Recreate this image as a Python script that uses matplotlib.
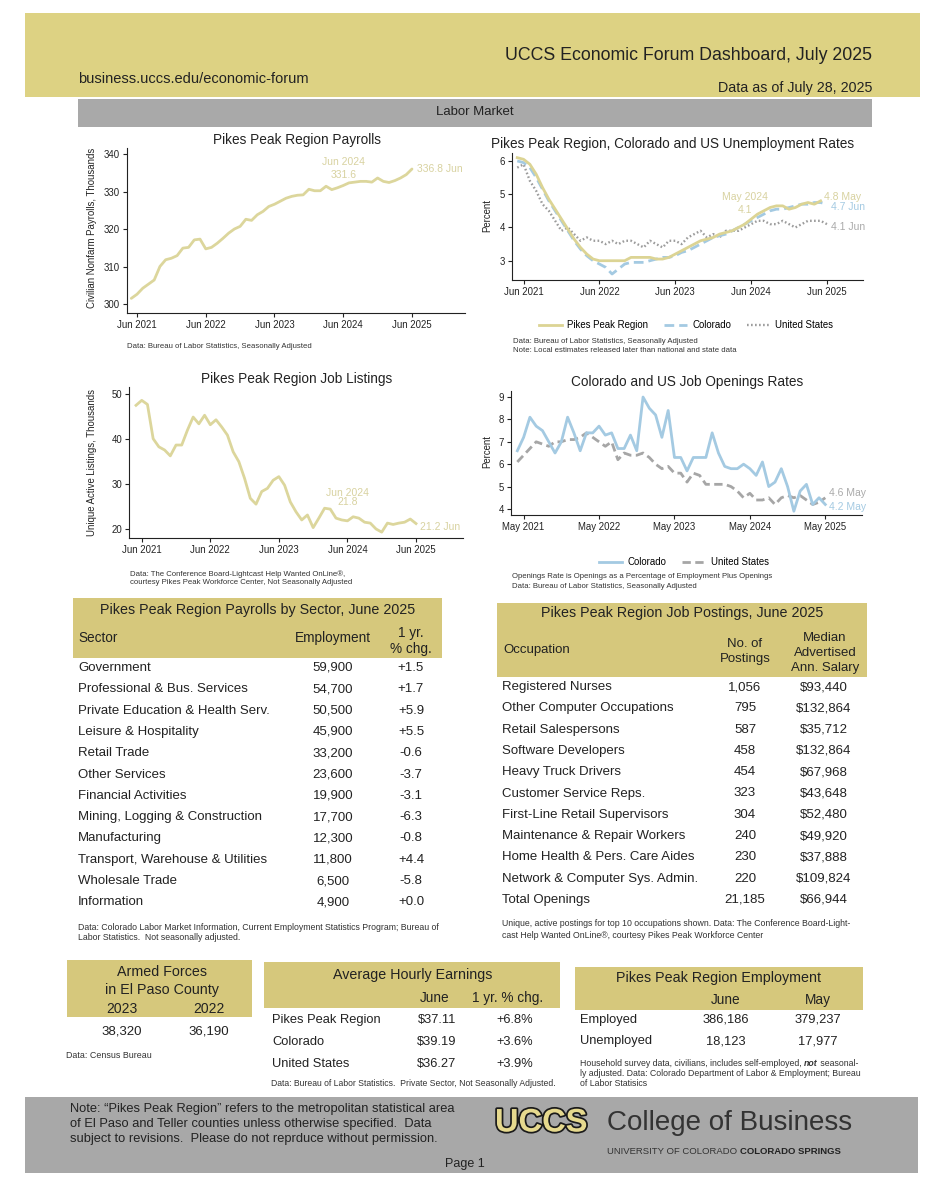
import numpy as np
import matplotlib
matplotlib.use("Agg")
import matplotlib.pyplot as plt
from matplotlib.patches import Rectangle
from matplotlib.lines import Line2D
import matplotlib.patheffects as pe

plt.rcParams['font.family'] = ['Liberation Sans', 'DejaVu Sans']

# ---------------- data ----------------
payrolls = [301.5, 302.6, 304.2, 305.3, 306.4, 310.0, 311.8, 312.2, 312.9, 314.9,
            315.1, 317.1, 317.3, 314.7, 315.1, 316.2, 317.5, 318.9, 320.0, 320.7,
            322.6, 322.3, 323.8, 324.7, 326.0, 326.6, 327.4, 328.2, 328.7, 329.0,
            329.1, 330.6, 330.2, 330.2, 331.4, 330.5, 331.0, 331.6, 332.3, 332.5,
            332.7, 332.7, 332.5, 333.6, 332.7, 332.4, 332.9, 333.6, 334.5, 336.0]  # May 2021 - Jun 2025

unemp_ppr = [6.1, 6.05, 5.9, 5.6, 5.2, 4.85, 4.55, 4.25, 3.95, 3.65,
             3.4, 3.2, 3.05, 3.0, 3.0, 3.0, 3.0, 3.0, 3.1, 3.1,
             3.1, 3.1, 3.05, 3.05, 3.1, 3.2, 3.3, 3.4, 3.5, 3.6,
             3.65, 3.7, 3.8, 3.85, 3.9, 4.0, 4.1, 4.25, 4.4, 4.5,
             4.6, 4.65, 4.65, 4.55, 4.6, 4.7, 4.75, 4.7, 4.8]  # May 2021 - May 2025
unemp_co = [6.0, 5.95, 5.8, 5.5, 5.15, 4.8, 4.5, 4.2, 3.9, 3.6,
            3.35, 3.15, 3.0, 2.9, 2.8, 2.6, 2.75, 2.9, 2.95, 2.95,
            2.95, 3.0, 3.05, 3.1, 3.1, 3.15, 3.25, 3.3, 3.4, 3.5,
            3.6, 3.7, 3.75, 3.8, 3.9, 4.0, 4.1, 4.2, 4.3, 4.4,
            4.5, 4.55, 4.55, 4.6, 4.65, 4.7, 4.7, 4.75, 4.75, 4.7]  # May 2021 - Jun 2025
unemp_us = [5.8, 5.9, 5.4, 5.1, 4.7, 4.5, 4.2, 3.9, 4.0, 3.8,
            3.6, 3.7, 3.6, 3.6, 3.5, 3.6, 3.5, 3.6, 3.6, 3.5,
            3.4, 3.6, 3.5, 3.4, 3.6, 3.6, 3.5, 3.7, 3.8, 3.9,
            3.7, 3.8, 3.7, 3.9, 3.9, 3.9, 4.0, 4.1, 4.2, 4.2,
            4.1, 4.1, 4.2, 4.1, 4.0, 4.1, 4.2, 4.2, 4.2, 4.1]  # May 2021 - Jun 2025

listings = [47.4, 48.5, 47.6, 40.0, 38.2, 37.5, 36.2, 38.6, 38.6, 41.9,
            44.8, 43.3, 45.2, 43.1, 44.2, 42.6, 40.8, 37.1, 34.9, 31.2,
            26.8, 25.5, 28.3, 29.0, 30.8, 31.6, 29.7, 26.0, 23.8, 22.0,
            23.1, 20.3, 22.4, 24.6, 24.4, 22.4, 22.0, 21.8, 22.7, 22.4,
            21.5, 21.3, 20.0, 19.3, 21.3, 21.0, 21.3, 21.5, 22.2, 21.2]  # May 2021 - Jun 2025

open_co = [6.6, 7.2, 8.1, 7.7, 7.5, 7.0, 6.5, 7.0, 8.1, 7.4,
           6.6, 7.4, 7.4, 7.7, 7.3, 7.4, 6.7, 6.7, 7.3, 6.6,
           9.0, 8.5, 8.2, 7.2, 8.4, 6.3, 6.3, 5.7, 6.3, 6.3,
           6.3, 7.4, 6.5, 5.9, 5.8, 5.8, 6.0, 5.8, 5.5, 6.1,
           5.0, 5.2, 5.8, 5.0, 3.9, 4.8, 5.1, 4.2, 4.5, 4.2]  # Apr 2021 - May 2025
open_us = [6.1, 6.4, 6.7, 7.0, 6.9, 6.8, 7.0, 7.0, 7.1, 7.1,
           7.2, 7.4, 7.2, 7.0, 6.8, 7.0, 6.2, 6.5, 6.4, 6.4,
           6.5, 6.3, 6.0, 5.8, 5.9, 5.6, 5.6, 5.2, 5.6, 5.5,
           5.1, 5.1, 5.1, 5.1, 5.0, 4.8, 4.5, 4.7, 4.4, 4.4,
           4.5, 4.2, 4.5, 4.6, 4.5, 4.6, 4.4, 4.2, 4.3, 4.5]  # Apr 2021 - May 2025

sectors = ["Government", "Professional & Bus. Services", "Private Education & Health Serv.",
           "Leisure & Hospitality", "Retail Trade", "Other Services", "Financial Activities",
           "Mining, Logging & Construction", "Manufacturing", "Transport, Warehouse & Utilities",
           "Wholesale Trade", "Information"]
sector_emp = [59900, 54700, 50500, 45900, 33200, 23600, 19900, 17700, 12300, 11800, 6500, 4900]
sector_chg = [1.5, 1.7, 5.9, 5.5, -0.6, -3.7, -3.1, -6.3, -0.8, 4.4, -5.8, 0.0]

occupations = ["Registered Nurses", "Other Computer Occupations", "Retail Salespersons",
               "Software Developers", "Heavy Truck Drivers", "Customer Service Reps.",
               "First-Line Retail Supervisors", "Maintenance & Repair Workers",
               "Home Health & Pers. Care Aides", "Network & Computer Sys. Admin.", "Total Openings"]
postings = [1056, 795, 587, 458, 454, 323, 304, 240, 230, 220, 21185]
salaries = [93440, 132864, 35712, 132864, 67968, 43648, 52480, 49920, 37888, 109824, 66944]

armed_years = ["2023", "2022"]
armed_values = [38320, 36190]

earn_regions = ["Pikes Peak Region", "Colorado", "United States"]
earn_june = [37.11, 39.19, 36.27]
earn_chg = [6.8, 3.6, 3.9]

emp_labels = ["Employed", "Unemployed"]
emp_june = [386186, 18123]
emp_may = [379237, 17977]

# ---------------- styling ----------------
BAND = '#ddd283'
TABHEAD = '#d6c87c'
GRAY = '#a9a9a9'
PAY = '#dcd69c'
PPR = '#dcd494'
PPR_TXT = '#d8d2a0'
BLUE = '#a4cae2'
GRAYLINE = '#9c9c9c'
USDASH = '#a6a6a6'
TXT = '#222222'
NOTE = '#333333'

W, H = 927, 1200
fig = plt.figure(figsize=(W / 100, H / 100), dpi=100)
fig.patch.set_facecolor('white')


def T(x, y, s, size=9, ha='left', va='center', color=TXT, **kw):
    return fig.text(x / W, 1 - y / H, s, fontsize=size, ha=ha, va=va, color=color, **kw)


def R(x0, y0, x1, y1, color):
    fig.add_artist(Rectangle((x0 / W, 1 - y1 / H), (x1 - x0) / W, (y1 - y0) / H,
                             transform=fig.transFigure, facecolor=color,
                             edgecolor='none', zorder=-5))


def AX(x0, y0, x1, y1):
    ax = fig.add_axes([x0 / W, 1 - y1 / H, (x1 - x0) / W, (y1 - y0) / H])
    ax.patch.set_alpha(0)
    for s in ['top', 'right']:
        ax.spines[s].set_visible(False)
    for s in ['left', 'bottom']:
        ax.spines[s].set_linewidth(0.8)
        ax.spines[s].set_color('#222')
    ax.tick_params(labelsize=6.9, length=3, width=0.8, colors='#222', pad=2)
    return ax


def months(y, m, n):
    return y + (m - 1) / 12 + np.arange(n) / 12


def seq(x, y, parts, size):
    r = fig.canvas.get_renderer()
    for s, kw in parts:
        t = T(x, y, s, size=size, **kw)
        x = t.get_window_extent(renderer=r).x1


years = [2021, 2022, 2023, 2024, 2025]
jun_ticks = [yy + 5 / 12 for yy in years]
may_ticks = [yy + 4 / 12 for yy in years]

CO_DASH = (3.5, 1.8)
US_DOT = (0.7, 1.0)
US_DASH = (3.0, 1.6)

# ---------------- header ----------------
R(25, 13, 920, 97, BAND)
T(872, 55, "UCCS Economic Forum Dashboard, July 2025", size=12.8, ha='right')
T(78, 79, "business.uccs.edu/economic-forum", size=10.5)
T(872, 88, "Data as of July 28, 2025", size=10.3, ha='right')
R(78, 99, 872, 127, GRAY)
T(475, 112, "Labor Market", size=9.5, ha='center')

# ---------------- chart 1: payrolls ----------------
ax1 = AX(127, 148, 465, 313)
ax1.plot(months(2021, 5, len(payrolls)), payrolls, color=PAY, lw=2.0, solid_capstyle='round')
ax1.set_xlim(2021.271, 2026.188)
ax1.set_ylim(297.6, 341.6)
ax1.set_yticks([300, 310, 320, 330, 340])
ax1.set_xticks(jun_ticks)
ax1.set_xticklabels([f"Jun {yy}" for yy in years])
ax1.text(2024 + 5 / 12, 337.8, "Jun 2024", ha='center', va='center', fontsize=7.5, color=PPR_TXT)
ax1.text(2024 + 5 / 12, 334.4, f"{payrolls[37]:.1f}", ha='center', va='center', fontsize=7.5, color=PPR_TXT)
ax1.text(2025 + 5 / 12 + 0.07, 335.9, "336.8 Jun", ha='left', va='center', fontsize=7.5, color=PPR_TXT)
T(297, 140, "Pikes Peak Region Payrolls", size=9.8, ha='center')
T(92, 228, "Civilian Nonfarm Payrolls, Thousands", size=6.9, ha='center', rotation=90)
T(127, 347, "Data: Bureau of Labor Statistics, Seasonally Adjusted", size=5.6, color=NOTE)

# ---------------- chart 2: unemployment ----------------
ax2 = AX(512, 153, 863, 280)
ax2.plot(months(2021, 5, len(unemp_us)), unemp_us, color=GRAYLINE, lw=1.7, dashes=US_DOT)
ax2.plot(months(2021, 5, len(unemp_co)), unemp_co, color=BLUE, lw=2.0, dashes=CO_DASH)
ax2.plot(months(2021, 5, len(unemp_ppr)), unemp_ppr, color=PPR, lw=2.0)
ax2.set_xlim(2021.264, 2025.892)
ax2.set_ylim(2.42, 6.24)
ax2.set_yticks([3, 4, 5, 6])
ax2.set_xticks(jun_ticks)
ax2.set_xticklabels([f"Jun {yy}" for yy in years])
ax2.text(2024 + 4 / 12, 4.93, "May 2024", ha='center', va='center', fontsize=7.5, color=PPR_TXT)
ax2.text(2024 + 4 / 12, 4.53, f"{unemp_ppr[36]:.1f}", ha='center', va='center', fontsize=7.5, color=PPR_TXT)
ax2.text(2025.375, 4.93, "4.8 May", ha='left', va='center', fontsize=7.5, color=PPR_TXT)
ax2.text(2025.47, 4.63, "4.7 Jun", ha='left', va='center', fontsize=7.5, color=BLUE)
ax2.text(2025.47, 4.02, "4.1 Jun", ha='left', va='center', fontsize=7.5, color='#aaaaaa')
T(673, 144, "Pikes Peak Region, Colorado and US Unemployment Rates", size=9.8, ha='center')
T(487, 215, "Percent", size=6.9, ha='center', rotation=90)
h2 = [Line2D([], [], color=PPR, lw=2.0),
      Line2D([], [], color=BLUE, lw=2.0, dashes=CO_DASH),
      Line2D([], [], color=GRAYLINE, lw=1.7, dashes=US_DOT)]
fig.legend(h2, ["Pikes Peak Region", "Colorado", "United States"], loc='center',
           bbox_to_anchor=(686 / W, 1 - 325 / H), ncol=3, frameon=False, fontsize=6.9,
           handlelength=2.4, handletextpad=0.6, columnspacing=1.6)
T(513, 342, "Data: Bureau of Labor Statistics, Seasonally Adjusted", size=5.6, color=NOTE)
T(513, 350, "Note: Local estimates released later than national and state data", size=5.6, color=NOTE)

# ---------------- chart 3: job listings ----------------
ax3 = AX(129, 387, 463, 538)
ax3.plot(months(2021, 5, len(listings)), listings, color=PAY, lw=2.0)
ax3.set_xlim(2021.231, 2026.102)
ax3.set_ylim(18.0, 51.46)
ax3.set_yticks([20, 30, 40, 50])
ax3.set_xticks(jun_ticks)
ax3.set_xticklabels([f"Jun {yy}" for yy in years])
ax3.text(2024 + 5 / 12, 27.9, "Jun 2024", ha='center', va='center', fontsize=7.5, color=PPR_TXT)
ax3.text(2024 + 5 / 12, 25.9, f"{listings[37]:.1f}", ha='center', va='center', fontsize=7.5, color=PPR_TXT)
ax3.text(2025.473, 20.4, f"{listings[-1]:.1f} Jun", ha='left', va='center', fontsize=7.5, color=PPR_TXT)
T(297, 379, "Pikes Peak Region Job Listings", size=9.8, ha='center')
T(92, 462, "Unique Active Listings, Thousands", size=6.9, ha='center', rotation=90)
T(130, 574, "Data: The Conference Board-Lightcast Help Wanted OnLine®,", size=5.6, color=NOTE)
T(130, 583, "courtesy Pikes Peak Workforce Center, Not Seasonally Adjusted", size=5.6, color=NOTE)

# ---------------- chart 4: job openings ----------------
ax4 = AX(511, 391, 862, 515)
ax4.plot(months(2021, 4, len(open_us)), open_us, color=USDASH, lw=2.0, dashes=US_DASH)
ax4.plot(months(2021, 4, len(open_co)), open_co, color=BLUE, lw=2.0)
ax4.set_xlim(2021.166, 2025.82)
ax4.set_ylim(3.73, 9.27)
ax4.set_yticks([4, 5, 6, 7, 8, 9])
ax4.set_xticks(may_ticks)
ax4.set_xticklabels([f"May {yy}" for yy in years])
ax4.text(2025.378, 4.70, "4.6 May", ha='left', va='center', fontsize=7.5, color='#aaaaaa')
ax4.text(2025.378, 4.08, "4.2 May", ha='left', va='center', fontsize=7.5, color=BLUE)
T(687, 382, "Colorado and US Job Openings Rates", size=9.8, ha='center')
T(487, 452, "Percent", size=6.9, ha='center', rotation=90)
h4 = [Line2D([], [], color=BLUE, lw=2.0),
      Line2D([], [], color=USDASH, lw=2.0, dashes=US_DASH)]
fig.legend(h4, ["Colorado", "United States"], loc='center',
           bbox_to_anchor=(684 / W, 1 - 562 / H), ncol=2, frameon=False, fontsize=6.9,
           handlelength=2.4, handletextpad=0.6, columnspacing=1.6)
T(512, 577, "Openings Rate is Openings as a Percentage of Employment Plus Openings", size=5.6, color=NOTE)
T(512, 586, "Data: Bureau of Labor Statistics, Seasonally Adjusted", size=5.6, color=NOTE)

# ---------------- payrolls by sector table ----------------
R(73, 598, 442, 658, TABHEAD)
T(258, 610, "Pikes Peak Region Payrolls by Sector, June 2025", size=10.3, ha='center')
T(78, 638, "Sector", size=9.8)
T(333, 638, "Employment", size=9.8, ha='center')
T(411, 633, "1 yr.", size=9.8, ha='center')
T(411, 649, "% chg.", size=9.8, ha='center')
for i, (s, e, c) in enumerate(zip(sectors, sector_emp, sector_chg)):
    yy = 668 + i * 21.3
    T(78, yy, s, size=9.5)
    T(333, yy, f"{e:,}", size=9.5, ha='center')
    T(411, yy, f"{c:+.1f}", size=9.5, ha='center')
T(78, 927, "Data: Colorado Labor Market Information, Current Employment Statistics Program; Bureau of", size=6.3, color=NOTE)
T(78, 937, "Labor Statistics.  Not seasonally adjusted.", size=6.3, color=NOTE)

# ---------------- job postings table ----------------
R(497, 603, 867, 677, TABHEAD)
T(682, 613, "Pikes Peak Region Job Postings, June 2025", size=10.3, ha='center')
T(503, 650, "Occupation", size=9.5)
T(745, 644, "No. of", size=9.5, ha='center')
T(745, 659, "Postings", size=9.5, ha='center')
T(825, 638, "Median", size=9.5, ha='center')
T(825, 653, "Advertised", size=9.5, ha='center')
T(825, 668, "Ann. Salary", size=9.5, ha='center')
for i, (o, p, s) in enumerate(zip(occupations, postings, salaries)):
    yy = 687 + i * 21.3
    T(502, yy, o, size=9.5)
    T(745, yy, f"{p:,}", size=9.5, ha='center')
    T(824, yy, f"${s:,}", size=9.5, ha='center')
T(502, 924, "Unique, active postings for top 10 occupations shown. Data: The Conference Board-Light-", size=6.3, color=NOTE)
T(502, 935, "cast Help Wanted OnLine®, courtesy Pikes Peak Workforce Center", size=6.3, color=NOTE)

# ---------------- armed forces ----------------
R(67, 960, 252, 1017, TABHEAD)
T(162, 972, "Armed Forces", size=10.3, ha='center')
T(162, 990, "in El Paso County", size=10.3, ha='center')
for i, (yr, v) in enumerate(zip(armed_years, armed_values)):
    xx = 122 + i * 87
    T(xx, 1009, yr, size=10, ha='center')
    T(xx, 1031, f"{v:,}", size=9.5, ha='center')
T(66, 1055, "Data: Census Bureau", size=6.4, color=NOTE)

# ---------------- average hourly earnings ----------------
R(264, 962, 560, 1008, TABHEAD)
T(413, 975, "Average Hourly Earnings", size=10.3, ha='center')
T(435, 998, "June", size=9.8, ha='center')
T(508, 998, "1 yr. % chg.", size=9.8, ha='center')
for i, (rg, w, c) in enumerate(zip(earn_regions, earn_june, earn_chg)):
    yy = 1020 + i * 22
    T(272, yy, rg, size=9.3)
    T(437, yy, f"${w:.2f}", size=9.3, ha='center')
    T(515, yy, f"{c:+.1f}%", size=9.3, ha='center')
T(271, 1083, "Data: Bureau of Labor Statistics.  Private Sector, Not Seasonally Adjusted.", size=6.2, color=NOTE)

# ---------------- PPR employment ----------------
R(575, 967, 863, 1010, TABHEAD)
T(719, 978, "Pikes Peak Region Employment", size=10.3, ha='center')
T(726, 1000, "June", size=9.8, ha='center')
T(818, 1000, "May", size=9.8, ha='center')
for i, (lb, j, m) in enumerate(zip(emp_labels, emp_june, emp_may)):
    yy = 1020 + i * 21
    T(580, yy, lb, size=9.3)
    T(726, yy, f"{j:,}", size=9.3, ha='center')
    T(818, yy, f"{m:,}", size=9.3, ha='center')
seq(580, 1063, [("Household survey data, civilians, includes self-employed, ", dict(color=NOTE)),
                ("not", dict(color=NOTE, fontweight='bold', fontstyle='italic')),
                (" seasonal-", dict(color=NOTE))], 6.3)
T(580, 1073, "ly adjusted. Data: Colorado Department of Labor & Employment; Bureau", size=6.3, color=NOTE)
T(580, 1083, "of Labor Statisics", size=6.3, color=NOTE)

# ---------------- footer ----------------
R(25, 1097, 918, 1173, '#a8a8a8')
T(70, 1109, "Note: \u201cPikes Peak Region\u201d refers to the metropolitan statistical area", size=9.3)
T(70, 1124, "of El Paso and Teller counties unless otherwise specified.  Data", size=9.3)
T(70, 1139, "subject to revisions.  Please do not reprduce without permission.", size=9.3)
T(495, 1123, "UCCS", size=23.5, fontweight='heavy', color='#e6d98e',
  path_effects=[pe.withStroke(linewidth=2.5, foreground='#1a1a1a')])
T(607, 1123, "College of Business", size=20, color='#333333')
seq(607, 1152, [("UNIVERSITY OF COLORADO ", dict(color='#333')),
                ("COLORADO SPRINGS", dict(color='#222', fontweight='bold'))], 6.8)
T(465, 1164, "Page 1", size=9, ha='center')

fig.savefig("out.png", dpi=100, facecolor='white')
